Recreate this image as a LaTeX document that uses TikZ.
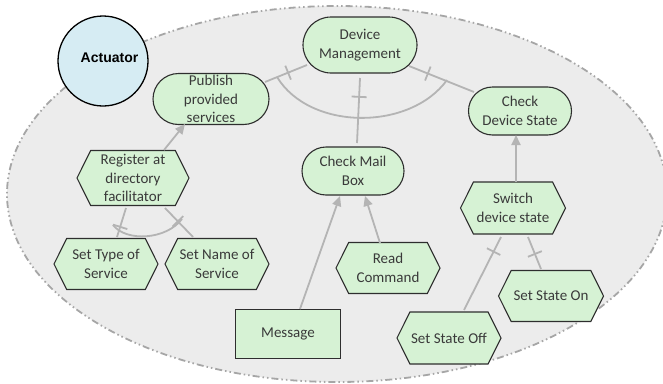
\documentclass[tikz,border=0pt]{standalone}
\usepackage{fontspec}
\setmainfont{Carlito}
\newfontfamily\headfont{Liberation Sans}
\usetikzlibrary{shapes.misc,shapes.symbols,arrows.meta,calc}

\definecolor{nodefill}{HTML}{D6F2D4}
\definecolor{nodeline}{HTML}{2E2E2E}
\definecolor{linkgray}{HTML}{B4B4B4}
\definecolor{areafill}{HTML}{ECECEC}
\definecolor{areaedge}{HTML}{A6A6A6}
\definecolor{actfill}{HTML}{D6ECF3}
\definecolor{txt}{HTML}{3A3A3A}

\tikzset{
  label text/.style={font=\fontsize{15}{18.5}\selectfont, text=txt, align=center},
  stad/.style={rounded rectangle, draw=nodeline, fill=nodefill, line width=1.1pt,
    inner sep=0pt, label text},
  hexbox/.style={signal, signal to=west and east, signal pointer angle=127,
    draw=nodeline, fill=nodefill, line width=1.1pt, inner sep=0pt,
    minimum width=104pt, minimum height=51pt, label text},
  rectbox/.style={rectangle, draw=nodeline, fill=nodefill, line width=1.1pt,
    inner sep=0pt, minimum width=105pt, minimum height=49pt, label text},
  link/.style={draw=linkgray, line width=1.8pt},
  arrowlink/.style={link, -{Triangle[length=10pt,width=9pt]}},
  tick/.style={rectangle, sloped, draw=linkgray, line width=1.8pt,
    minimum width=0pt, minimum height=15pt, inner sep=0pt, outer sep=0pt},
}

\begin{document}
\begin{tikzpicture}[x=1pt, y=-1pt]
\useasboundingbox (0,0) rectangle (663,383);

% agent area
\fill[areafill] (337,194) ellipse [x radius=330pt, y radius=188pt];
\draw[areaedge, line width=1.8pt,
  dash pattern=on 7pt off 3pt on 1.5pt off 3pt on 1.5pt off 3pt]
  (337,194) ellipse [x radius=330pt, y radius=188pt];

% agent
\node[circle, draw=black, fill=actfill, line width=1.3pt, minimum size=90pt,
  inner sep=0pt,
  label={[font=\headfont\bfseries\fontsize{14}{16}\selectfont, text=black,
          xshift=6.5pt, yshift=3.5pt]center:Actuator}] (act) at (103,61) {};

% goals and tasks
\node[stad, minimum width=114pt, minimum height=56pt] (dm) at (360,45) {Device\\Management};
\node[stad, minimum width=116pt, minimum height=51pt] (pub) at (211,99) {Publish\\provided\\services};
\node[stad, minimum width=103pt, minimum height=48pt] (cds) at (520,111) {Check\\Device State};
\node[stad, minimum width=102pt, minimum height=48pt] (cmb) at (353,171) {Check Mail\\Box};
\node[hexbox, minimum width=112pt, minimum height=55pt] (reg) at (133,178) {Register at\\directory\\facilitator};
\node[hexbox] (stype) at (106,264) {Set Type of\\Service};
\node[hexbox] (sname) at (217,264) {Set Name of\\Service};
\node[rectbox] (msg) at (288,334) {Message};
\node[hexbox] (rc) at (388,268) {Read\\Command};
\node[hexbox, minimum width=105pt, minimum height=52pt] (sw) at (513,208) {Switch\\device state};
\node[hexbox, minimum width=105pt] (on) at (551,296) {Set State On};
\node[hexbox, minimum height=52pt] (off) at (449,338) {Set State Off};

% contributions
\draw[arrowlink] ($(reg)+(31,-28)$) -- ($(pub)+(-26,25)$);
\draw[arrowlink] ($(msg)+(12,-25)$) -- ($(cmb)+(-13,25)$);
\draw[arrowlink] ($(rc)+(-8,-25)$) -- ($(cmb)+(12,25)$);
\draw[arrowlink] ($(sw)+(3,-26)$) -- ($(cds)+(-4,24)$);

% decompositions
\draw[link] ($(pub)+(54,-17)$) -- node[tick, pos=0.55]{} ($(dm)+(-53,20)$);
\draw[link] ($(dm)+(49,21)$) -- node[tick, pos=0.29]{} ($(cds)+(-46,-19)$);
\draw[link] ($(dm)+(0,33)$) -- node[tick, pos=0.29]{} ($(cmb)+(4,-28)$);
\draw[link] ($(reg)+(-7,30)$) -- node[tick, pos=0.65]{} ($(stype)+(11,-27)$);
\draw[link] ($(reg)+(32,30)$) -- node[tick, pos=0.46]{} ($(sname)+(-24,-27)$);
\draw[link] ($(sw)+(-12,29)$) -- node[tick, pos=0.2]{} ($(off)+(15,-28)$);
\draw[link] ($(sw)+(15,29)$) -- node[tick, pos=0.53]{} ($(on)+(-10,-27)$);

% and-arcs
\draw[link] (277,77) .. controls (310,131) and (410,131) .. (447,80);
\draw[link] (113,225) .. controls (126,242) and (166,240) .. (182,219);
\end{tikzpicture}
\end{document}
